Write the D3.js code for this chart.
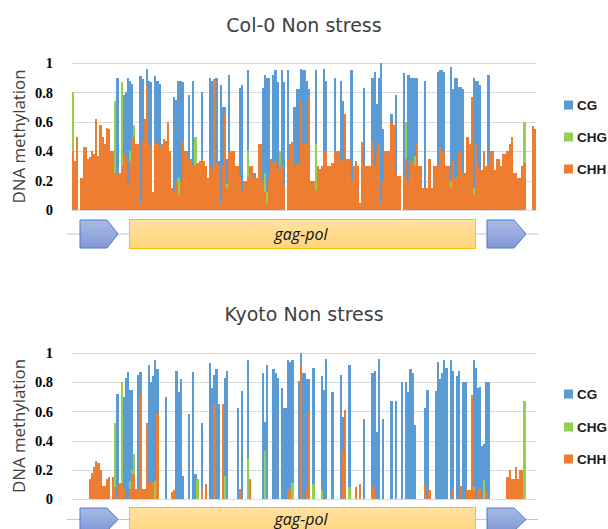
<!DOCTYPE html>
<html>
<head>
<meta charset="utf-8">
<script src="https://cdn.jsdelivr.net/npm/d3@7"></script>
<style>
  body { margin: 0; background: #fff; }
  svg { display: block; }
</style>
</head>
<body>
<div id="app"></div>
<script>
// bin positions along the element (one bar per bin)
var N = 220;
var positions = d3.range(N);
var seriesNames = ['CG', 'CHG', 'CHH'];
var yTicks = [0, 0.2, 0.4, 0.6, 0.8, 1];

// Col-0 non stress
var cgCol = [
  0,0,0,0,0,0,0,0,0,0,
  0,0,0,0,0,0,0,0,0,0,
  0,.90,0,.75,.78,.80,.90,.88,.86,0,
  0,0,.91,.89,0,.96,.88,.87,.10,.91,
  .88,.86,0,0,0,0,0,0,.77,.75,
  .88,.88,.87,.25,0,.78,0,.88,0,0,
  0,.80,0,0,0,.90,.88,.88,.90,.33,
  .85,.70,.70,.35,.92,.25,0,0,0,.83,
  .85,0,0,.95,0,0,.25,0,0,0,
  .83,.92,.90,.90,.30,.92,.95,.87,0,.95,
  .87,0,.95,0,0,.70,.82,.82,.96,.95,
  .95,.88,.82,0,0,.95,0,0,0,.96,
  .88,0,0,0,.90,0,0,.88,.74,0,
  0,0,.95,0,0,0,0,0,.83,0,
  0,0,.90,.94,.72,.90,1.0,.55,0,0,
  0,.65,0,.78,0,0,0,.93,0,.92,
  .90,.90,.90,.90,0,0,0,.88,0,0,
  0,0,0,.94,.95,.95,.94,.30,0,.97,
  .82,.90,.90,.84,.84,.82,0,0,0,0,
  .90,.88,.88,.85,.20,0,0,.92,0,0,
  0,0,0,0,0,0,0,0,0,0,
  0,0,0,0,0,0,0,0,0,0
];
var chgCol = [
  .80,0,0,0,0,0,0,0,0,0,
  0,0,0,0,0,0,0,0,0,0,
  .74,0,0,.87,0,0,0,.40,0,.58,
  0,0,0,0,0,0,0,0,0,0,
  0,0,0,0,0,0,0,0,0,0,
  .22,0,0,0,0,0,0,0,.50,0,
  0,0,0,0,0,0,0,0,0,0,
  0,0,0,.18,0,0,0,0,0,0,
  0,0,0,.40,0,0,0,0,0,0,
  0,.25,.12,0,0,0,0,0,.40,0,
  0,0,0,.35,0,0,0,0,0,0,
  0,0,0,0,0,.45,0,0,0,0,
  0,0,0,0,0,0,0,0,0,0,
  0,0,0,0,0,0,0,0,0,0,
  0,0,0,0,0,0,0,0,0,0,
  0,0,0,0,0,0,0,0,.60,0,
  0,0,.37,0,0,0,0,0,0,0,
  0,0,0,.30,0,0,.35,0,0,.20,
  .25,0,0,0,0,0,0,0,0,0,
  .15,0,0,0,0,.37,0,0,0,0,
  0,0,0,0,0,0,0,0,0,0,
  0,0,0,0,.60,0,0,0,0,0
];
var chhCol = [
  .40,.33,.50,0,.22,.43,.43,.35,.36,.40,
  .38,.62,.37,.58,.50,.45,.56,.55,.40,.40,
  .25,.25,.25,.30,.38,.36,.18,.33,.50,.50,
  .45,.45,.05,.47,.62,.85,.45,.43,.12,.47,
  .45,.43,.45,.48,.47,.60,.40,.15,.12,.20,
  .10,.20,.47,.40,.40,.35,.35,.30,.30,.32,
  .33,.35,.33,.30,.22,.30,.28,.89,.32,.30,
  .05,.30,.65,.15,.40,.40,.40,.30,.30,.22,
  .12,.20,.20,.22,.30,.30,.22,.22,.45,.45,
  .20,.12,.05,.22,.35,.32,.33,.28,.30,.30,
  .17,0,.35,.45,.46,.30,.32,.32,.75,.45,
  .45,.45,.77,.20,.20,.13,.30,.28,.30,.40,
  .40,.30,.30,.32,.40,.40,.40,.33,.35,.65,
  .35,.35,.20,.30,.33,.30,.05,.46,.30,.30,
  .30,.30,.47,.30,.40,.45,.05,.20,.40,.40,
  .40,.60,.58,.25,.23,.23,0,.23,.35,.20,
  .33,.33,.30,.45,.30,.30,.15,.15,.15,.35,
  .15,.30,.30,.30,.42,.40,.40,.30,.30,.15,
  .35,.22,.22,.40,.40,.25,.25,.50,.45,.77,
  .10,.45,.30,.27,.27,.40,.30,.30,.40,.40,
  .27,.35,.35,.30,.38,.38,.40,.45,.50,.25,
  .25,.22,.22,.30,.32,0,0,0,.57,.55
];

// Kyoto non stress
var cgKyo = [
  0,0,0,0,0,0,0,0,0,0,
  0,0,0,0,0,0,0,0,0,0,
  0,.72,0,.72,.70,.83,.87,.75,.75,0,
  0,.85,.87,0,0,.52,.92,.80,.84,.95,
  .89,0,0,0,.70,0,0,0,0,.88,
  .73,.82,.16,0,0,.58,0,.87,.17,0,
  0,.52,0,0,0,.93,.76,.85,.89,.65,
  0,.65,.83,.88,0,0,0,0,.62,0,
  .74,0,0,.95,0,0,0,0,0,0,
  .86,.53,.92,0,0,.89,.86,.83,0,.76,
  .62,.62,.95,.94,.95,0,0,.81,1.0,.86,
  .86,.82,.82,0,.90,0,0,0,.84,.75,
  .96,0,0,.73,0,0,0,.85,.56,0,
  0,.92,0,0,0,0,0,0,.55,0,
  0,0,.86,.88,.46,.96,0,.55,0,0,
  0,.67,0,.67,0,0,.80,0,.80,.73,
  .89,.86,.51,0,0,0,0,.62,.75,0,
  0,0,.74,.94,.82,.86,.95,.90,0,.95,
  .88,0,.84,.88,0,.80,.80,0,0,0,
  .95,.90,.76,.77,.36,.38,.80,.80,0,0,
  0,0,0,0,0,0,0,0,0,0,
  0,0,0,0,0,0,0,0,0,0
];
var chgKyo = [
  0,0,0,0,0,0,0,0,0,0,
  0,0,0,0,0,0,0,0,0,0,
  .52,0,0,.80,0,0,0,.12,.20,.31,
  0,0,0,0,0,0,0,0,0,.12,
  0,0,0,0,0,0,0,0,0,0,
  0,0,0,0,0,0,0,0,0,.14,
  0,0,0,0,0,0,0,0,0,0,
  0,0,.16,0,0,0,0,0,0,0,
  0,0,0,.28,0,0,0,0,0,0,
  0,.33,0,0,0,0,0,0,0,0,
  0,0,0,0,.11,0,0,0,0,0,
  0,0,0,0,.10,0,0,0,.06,0,
  0,0,0,0,0,0,0,0,0,0,
  0,.08,0,0,0,0,0,0,0,0,
  0,0,0,0,0,0,0,0,0,0,
  0,0,0,0,0,0,0,0,0,0,
  0,0,0,0,0,0,0,0,0,0,
  0,0,0,0,0,0,0,0,0,0,
  0,0,0,0,0,0,0,0,0,0,
  .08,0,0,0,0,.13,0,0,0,0,
  0,0,0,0,0,0,0,0,0,0,
  0,0,0,0,.67,0,0,0,0,0
];
var chhKyo = [
  0,0,0,0,0,0,0,0,.14,.18,
  .22,.26,.25,.20,.09,.09,.14,.15,0,.15,
  .08,0,.11,.11,.07,0,0,.07,.18,.17,
  .07,.07,.72,.07,.07,.52,.10,.12,.12,0,
  .58,0,0,0,0,0,0,.05,.06,0,
  0,0,0,0,0,0,0,0,0,0,
  0,.07,0,.10,0,0,0,.65,0,0,
  0,.65,0,0,0,0,0,0,0,.07,
  0,0,0,0,.14,0,0,0,0,0,
  0,0,0,0,0,0,0,0,0,0,
  0,0,.07,.07,0,0,0,0,.92,0,
  0,.07,.60,0,0,0,0,0,0,0,
  0,0,0,0,0,0,0,0,.32,.61,
  0,0,0,0,.08,0,.10,0,0,0,
  0,0,.09,.06,0,0,0,0,0,0,
  0,0,0,0,0,0,0,0,0,0,
  0,0,0,0,0,0,0,.10,0,.06,
  0,0,0,0,0,0,0,0,0,0,
  .07,0,0,0,.09,0,0,.06,.06,.71,
  .06,0,.07,.07,0,0,.05,0,0,0,
  0,0,0,0,0,0,.15,.20,.14,.14,
  .22,.14,.20,.20,0,0,0,0,0,0
];

var colors = { CG: '#5b9bd5', CHG: '#92d050', CHH: '#ed7d31' };

var svg = d3.select('#app').append('svg')
  .attr('width', 608).attr('height', 529);

var defs = svg.append('defs');
var g1 = defs.append('linearGradient').attr('id', 'ltrFill').attr('x1', 0).attr('y1', 0).attr('x2', 0).attr('y2', 1);
g1.append('stop').attr('offset', '0%').attr('stop-color', '#a9bbe6');
g1.append('stop').attr('offset', '100%').attr('stop-color', '#8198d6');
var g2 = defs.append('linearGradient').attr('id', 'orfFill').attr('x1', 0).attr('y1', 0).attr('x2', 0).attr('y2', 1);
g2.append('stop').attr('offset', '0%').attr('stop-color', '#ffe2a0');
g2.append('stop').attr('offset', '100%').attr('stop-color', '#ffd47c');

var x = d3.scaleBand().domain(positions).range([72, 536]).paddingInner(0);

function panel(cfg) {
  var y = d3.scaleLinear().domain([0, 1]).range([cfg.y0, cfg.y1]);
  var g = svg.append('g');

  g.append('text')
    .attr('x', 304).attr('y', cfg.titleY)
    .attr('text-anchor', 'middle')
    .style('font-family', 'DejaVu Sans')
    .style('font-size', '19px')
    .style('fill', '#404040')
    .text(cfg.title);

  // gridlines
  g.selectAll('.grid').data(yTicks).enter().append('line')
    .attr('x1', 72).attr('x2', 536)
    .attr('y1', function(d) { return Math.round(y(d)) + 0.5; })
    .attr('y2', function(d) { return Math.round(y(d)) + 0.5; })
    .attr('stroke', '#d9d9d9').attr('stroke-width', 1);

  var ax = g.append('g').attr('transform', 'translate(72,0)')
    .call(d3.axisLeft(y).tickValues(yTicks).tickSize(0).tickPadding(19)
      .tickFormat(function(d) { return d === 0 ? '0' : d === 1 ? '1' : d3.format('.1f')(d); }));
  ax.select('.domain').remove();
  ax.selectAll('text')
    .style('font-family', 'Liberation Serif')
    .style('font-weight', 'bold')
    .style('font-size', '14.5px')
    .style('fill', '#000');

  g.append('text')
    .attr('transform', 'translate(25,' + ((cfg.y0 + cfg.y1) / 2) + ') rotate(-90)')
    .attr('text-anchor', 'middle')
    .attr('textLength', 134).attr('lengthAdjust', 'spacingAndGlyphs')
    .style('font-family', 'Open Sans')
    .style('font-size', '16.5px')
    .style('fill', '#404040')
    .text('DNA methylation');

  // bars, CG behind, CHH in front
  var sets = [cfg.cg, cfg.chg, cfg.chh];
  sets.forEach(function(vals, k) {
    g.append('g').attr('shape-rendering', 'crispEdges')
      .selectAll('rect').data(vals).enter().append('rect')
      .attr('x', function(d, i) { return x(positions[i]); })
      .attr('width', x.bandwidth() + 0.1)
      .attr('y', function(d) { return y(d); })
      .attr('height', function(d) { return y(0) - y(d); })
      .attr('fill', colors[seriesNames[k]]);
  });

  // legend
  seriesNames.forEach(function(s, k) {
    g.append('rect').attr('x', 564).attr('y', cfg.legY[k] - 4.5)
      .attr('width', 9).attr('height', 9).attr('fill', colors[s]);
    g.append('text').attr('x', 577).attr('y', cfg.legY[k] + 5)
      .style('font-family', 'Liberation Sans')
      .style('font-weight', 'bold')
      .style('font-size', '13.5px')
      .style('fill', '#1a1a1a')
      .text(s);
  });

  // element diagram: LTR - gag-pol - LTR
  var t = cfg.geneY, h = 28, m = t + cfg.lineOff;
  g.append('line').attr('x1', 67).attr('x2', 538).attr('y1', m).attr('y2', m)
    .attr('stroke', '#b4c7e7').attr('stroke-width', 1.2);
  [[80, 107, 118], [487, 514, 526]].forEach(function(p) {
    g.append('path')
      .attr('d', 'M' + p[0] + ',' + t + 'L' + p[1] + ',' + t + 'L' + p[2] + ',' + m +
        'L' + p[1] + ',' + (2 * m - t) + 'L' + p[0] + ',' + (2 * m - t) + 'Z')
      .attr('fill', 'url(#ltrFill)').attr('stroke', '#4f78c8').attr('stroke-width', 1);
  });
  g.append('rect').attr('x', 129.5).attr('y', t - 0.5).attr('width', 346).attr('height', h + 1)
    .attr('fill', 'url(#orfFill)').attr('stroke', '#ffc000').attr('stroke-width', 1);
  g.append('text').attr('x', 301).attr('y', cfg.textY)
    .attr('text-anchor', 'middle')
    .style('font-family', 'Open Sans')
    .style('font-style', 'italic')
    .style('font-size', '16px')
    .style('fill', '#111')
    .text('gag-pol');
}

panel({ title: 'Col-0 Non stress', titleY: 32, y0: 210, y1: 63,
  legY: [105, 137, 169], geneY: 220, lineOff: 14, textY: 239.5,
  cg: cgCol, chg: chgCol, chh: chhCol });
panel({ title: 'Kyoto Non stress', titleY: 321, y0: 499, y1: 353,
  legY: [394, 427, 459], geneY: 508, lineOff: 11.5, textY: 524.5,
  cg: cgKyo, chg: chgKyo, chh: chhKyo });
</script>
</body>
</html>
